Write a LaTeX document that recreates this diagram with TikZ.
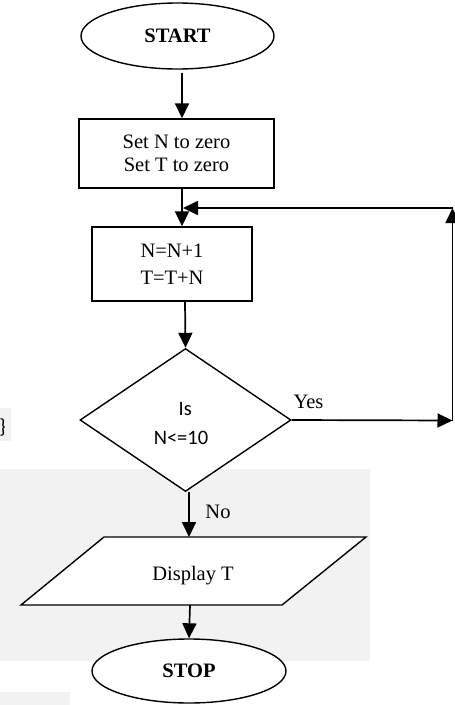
\documentclass[tikz,border=0pt]{standalone}
\usepackage{fontspec}
\setmainfont{Liberation Serif}
\newfontfamily\calib{Carlito}
\usetikzlibrary{shapes.geometric,arrows.meta}
\definecolor{bgpatch}{HTML}{F2F2F2}
\begin{document}
\begin{tikzpicture}[x=1pt,y=-1pt,
  every node/.style={font=\fontsize{20.5}{23.6}\selectfont},
  arr/.style={line width=1.7pt,-{Triangle[length=15pt,width=14pt]}},
  term/.style={ellipse,draw,line width=1.4pt,fill=white,inner sep=0pt,
    font=\fontsize{20.5}{24}\selectfont\bfseries},
  proc/.style={rectangle,draw,line width=1.4pt,fill=white,inner sep=0pt,align=center},
  dec/.style={diamond,draw,line width=1.4pt,fill=white,inner sep=0pt,align=center},
  lab/.style={inner sep=0pt}
]
\useasboundingbox (0,0) rectangle (455,705);
% background patches
\fill[bgpatch] (0,469) rectangle (370,661);
\fill[bgpatch] (0,408) rectangle (11,441);
\fill[bgpatch] (0,692) rectangle (70,705);
\node[lab] (brace) at (2.5,427) {\calib\}};

% nodes
\node[term, minimum width=193pt, minimum height=66pt] (start) at (177.5,36) {START};
\node[proc, minimum width=195pt, minimum height=69pt] (box1) at (176.5,153.5) {Set N to zero\\Set T to zero};
\node[proc, minimum width=160pt, minimum height=74pt] (box2) at (172,264) {N=N+1\\[3pt]T=T+N};
\node[dec, minimum width=211pt, minimum height=143pt] (dia) at (185.5,420) {};
\node[lab, anchor=base] (is) at (185.3,415) {\calib Is};
\node[lab, anchor=base] (cond) at (181,444.3) {\calib N<=10};
\draw[line width=1.4pt, fill=white] (104,537) -- (366,537) -- (282,605) -- (21,605) -- cycle;
\node[lab, anchor=base] (disp) at (193,580) {Display T};
\coordinate (ptop) at (189,537);
\coordinate (pbot) at (190,605);
\node[term, minimum width=194pt, minimum height=64pt] (stop) at (189,671) {STOP};

% labels
\node[lab, anchor=base] (yes) at (308.5,408) {Yes};
\node[lab, anchor=base] (no) at (218,518) {No};

% loop corners
\coordinate (c1) at (452.5,420.5);
\coordinate (c2) at (452.5,208);
\coordinate (c3) at (183,208);

% connectors
\draw[arr] ([xshift=4.5pt,yshift=-3pt]start.south) -- ([xshift=5.5pt]box1.north);
\draw[arr] ([xshift=5.5pt]box1.south) -- ([xshift=10pt]box2.north);
\draw[arr] ([xshift=13pt]box2.south) -- (dia.north);
\draw[arr] (dia.east) -- (c1);
\draw[arr] (c1) -- (c2);
\draw[arr] (c2) -- (c3);
\draw[arr] ([xshift=3.5pt]dia.south) -- (ptop);
\draw[arr] (pbot) -- (stop.north);
\end{tikzpicture}
\end{document}
